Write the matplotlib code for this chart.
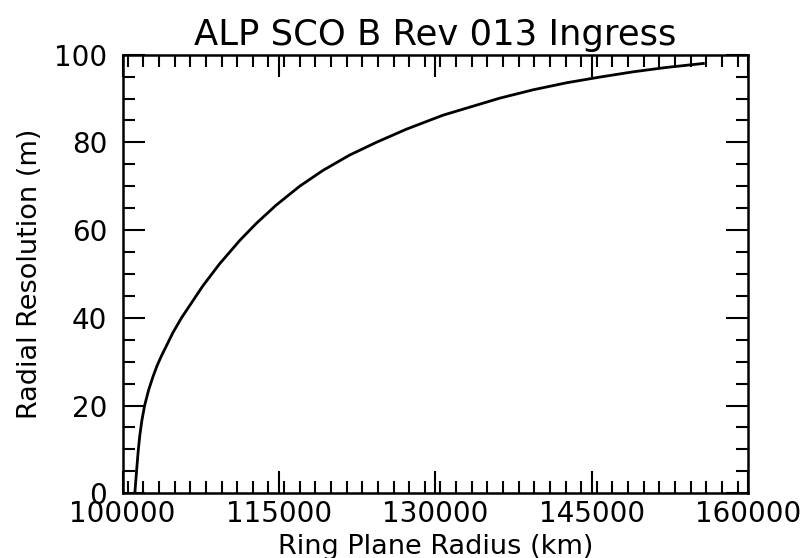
import matplotlib
matplotlib.use("Agg")
import matplotlib.pyplot as plt
from matplotlib.ticker import MultipleLocator

# Curve (km, m)
radius_km = [101180, 101280, 101380, 101500, 101650, 101850, 102120, 102500,
             102910, 103300, 103710, 104830, 105660, 107710, 109310, 111230,
             112820, 114740, 116990, 119220, 121780, 124340, 127220, 130740,
             136210, 139400, 142610, 145810, 149000, 152210, 155720]
resolution_m = [0, 3.0, 6.0, 9.5, 13.0, 16.5, 20.0, 23.5,
                26.5, 29.0, 31.2, 36.6, 40.0, 47.3, 52.3, 57.6,
                61.5, 65.7, 70.0, 73.6, 77.1, 80.0, 83.0, 86.2,
                90.1, 92.0, 93.6, 94.9, 96.1, 97.1, 98.0]

x_ticks = [100000, 115000, 130000, 145000, 160000]
y_ticks = [0, 20, 40, 60, 80, 100]

fig = plt.figure(figsize=(8.06, 5.58), dpi=100)
ax = fig.add_axes([0.152, 0.116, 0.776, 0.786])

ax.plot(radius_km, resolution_m, color="black", linewidth=2.0)

ax.set_xlim(100000, 160000)
ax.set_ylim(0, 100)
ax.set_xticks(x_ticks)
ax.set_yticks(y_ticks)
ax.xaxis.set_minor_locator(MultipleLocator(1500))
ax.yaxis.set_minor_locator(MultipleLocator(5))

ax.tick_params(which="both", direction="in", top=True, right=True,
               width=1.5, labelsize=20)
ax.tick_params(axis="x", which="both", pad=5)
ax.tick_params(axis="y", which="both", pad=11)
ax.tick_params(which="major", length=15.5)
ax.tick_params(which="minor", length=8.4)
for s in ax.spines.values():
    s.set_linewidth(1.8)

ax.set_title("ALP SCO B Rev 013 Ingress", fontsize=25.5, pad=7)
ax.set_xlabel("Ring Plane Radius (km)", fontsize=19.5, labelpad=4)
ax.set_ylabel("Radial Resolution (m)", fontsize=19.5, labelpad=8)

fig.savefig("out.png", dpi=100)
